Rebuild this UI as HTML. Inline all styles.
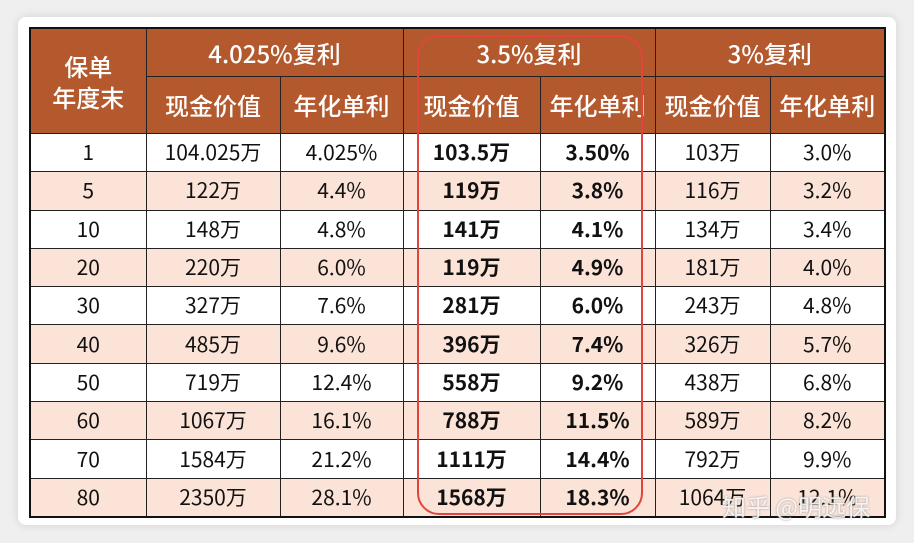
<!DOCTYPE html>
<html><head><meta charset="utf-8"><style>
body{margin:0;width:914px;height:543px;background:#efefef;overflow:hidden;position:relative;font-family:"Noto Sans CJK SC","Liberation Sans",sans-serif}
.card{position:absolute;left:18px;top:17px;width:878px;height:508px;background:#fff;border-radius:8px;box-shadow:0 0 10px rgba(0,0,0,0.12)}
table{position:absolute;left:29px;top:27px;border-collapse:collapse;table-layout:fixed;border:2px solid #111}
td,th{border:1px solid #222;text-align:center;padding:0;font-size:21px;line-height:1;color:#111;font-weight:normal}
th{background:#b3592d;color:#fff;font-size:24px;line-height:1.3;font-weight:500}
tr.h1 th{height:47px}
tr.h2 th{height:56px}
tbody td{height:37.3px}
tbody tr:nth-child(even) td{background:#fbe3d7}
td.b{font-weight:bold}
.red{position:absolute;left:417px;top:35px;width:222px;height:476px;border:2px solid #e0453d;border-radius:22px}
.wm{position:absolute;left:722px;top:488px;color:rgba(255,255,255,0.85);font-size:24px;text-shadow:0 0 2px #999}
</style></head><body>
<div class="card"></div>
<table>
<colgroup><col style="width:116px"><col style="width:134px"><col style="width:123px"><col style="width:137px"><col style="width:115px"><col style="width:115px"><col style="width:115px"></colgroup>
<thead>
<tr class="h1"><th rowspan="2">保单<br>年度末</th><th colspan="2">4.025%复利</th><th colspan="2">3.5%复利</th><th colspan="2">3%复利</th></tr>
<tr class="h2"><th>现金价值</th><th>年化单利</th><th>现金价值</th><th>年化单利</th><th>现金价值</th><th>年化单利</th></tr>
</thead>
<tbody>
<tr><td>1</td><td>104.025万</td><td>4.025%</td><td class="b">103.5万</td><td class="b">3.50%</td><td>103万</td><td>3.0%</td></tr>
<tr><td>5</td><td>122万</td><td>4.4%</td><td class="b">119万</td><td class="b">3.8%</td><td>116万</td><td>3.2%</td></tr>
<tr><td>10</td><td>148万</td><td>4.8%</td><td class="b">141万</td><td class="b">4.1%</td><td>134万</td><td>3.4%</td></tr>
<tr><td>20</td><td>220万</td><td>6.0%</td><td class="b">119万</td><td class="b">4.9%</td><td>181万</td><td>4.0%</td></tr>
<tr><td>30</td><td>327万</td><td>7.6%</td><td class="b">281万</td><td class="b">6.0%</td><td>243万</td><td>4.8%</td></tr>
<tr><td>40</td><td>485万</td><td>9.6%</td><td class="b">396万</td><td class="b">7.4%</td><td>326万</td><td>5.7%</td></tr>
<tr><td>50</td><td>719万</td><td>12.4%</td><td class="b">558万</td><td class="b">9.2%</td><td>438万</td><td>6.8%</td></tr>
<tr><td>60</td><td>1067万</td><td>16.1%</td><td class="b">788万</td><td class="b">11.5%</td><td>589万</td><td>8.2%</td></tr>
<tr><td>70</td><td>1584万</td><td>21.2%</td><td class="b">1111万</td><td class="b">14.4%</td><td>792万</td><td>9.9%</td></tr>
<tr><td>80</td><td>2350万</td><td>28.1%</td><td class="b">1568万</td><td class="b">18.3%</td><td>1064万</td><td>12.1%</td></tr>
</tbody>
</table>
<div class="red"></div>
<div class="wm">知乎 @明远保</div>
</body></html>
